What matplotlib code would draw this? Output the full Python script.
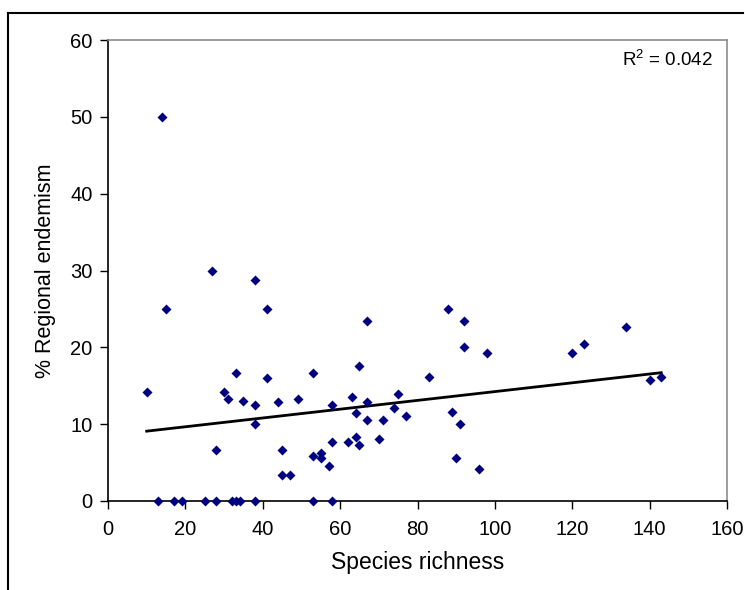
import numpy as np
import matplotlib.pyplot as plt
from matplotlib.lines import Line2D

plt.rcParams['font.family'] = ['Liberation Sans', 'DejaVu Sans']
plt.rcParams['mathtext.fontset'] = 'custom'
plt.rcParams['mathtext.rm'] = 'Liberation Sans'
plt.rcParams['mathtext.it'] = 'Liberation Sans:italic'

# species richness vs % regional endemism, one value per site
richness = [10, 14, 15, 13, 17, 19, 25, 28, 27, 28, 30, 31, 32, 33, 33, 34,
            35, 38, 38, 38, 38, 41, 41, 44, 45, 45, 47, 49, 53, 53, 53, 55,
            55, 57, 58, 58, 58, 62, 63, 64, 64, 65, 65, 67, 67, 67, 70, 71,
            74, 75, 77, 83, 88, 89, 90, 91, 92, 92, 96, 98, 120, 123, 134,
            140, 143]
endemism = [14.2, 50.0, 25.0, 0, 0, 0, 0, 0, 30.0, 6.7, 14.2, 13.3, 0, 16.7,
            0, 0, 13.0, 28.7, 12.5, 10.0, 0, 25.0, 16.0, 12.9, 6.7, 3.4, 3.4,
            13.3, 16.7, 5.9, 0, 6.3, 5.6, 4.5, 12.5, 7.7, 0, 7.7, 13.5, 11.4,
            8.3, 17.6, 7.3, 23.4, 12.9, 10.6, 8.1, 10.5, 12.1, 13.9, 11.1,
            16.1, 25.0, 11.6, 5.6, 10.0, 23.4, 20.0, 4.2, 19.3, 19.3, 20.4,
            22.7, 15.8, 16.1]
r2_text = r'R$^2$ = 0.042'

x = np.array(richness, dtype=float)
y = np.array(endemism, dtype=float)

# least-squares trend line over the observed range
slope, intercept = np.polyfit(x, y, 1)
xfit = np.array([x.min(), x.max()])
yfit = slope * xfit + intercept

fig = plt.figure(figsize=(7.45, 5.9), dpi=100)
ax = fig.add_axes([108 / 745, 1 - 501 / 590, 619 / 745, 461 / 590])

ax.scatter(x, y, marker='D', s=26, color='#000080', linewidths=0, zorder=3,
           clip_on=False)
ax.plot(xfit, yfit, color='black', linewidth=2, zorder=2)

ax.set_xlim(0, 160)
ax.set_ylim(0, 60)
ax.set_xticks(np.arange(0, 161, 20))
ax.set_yticks(np.arange(0, 61, 10))
ax.tick_params(direction='out', length=6, width=1, labelsize=14.5,
               color='black')
ax.tick_params(axis='x', pad=8)
ax.tick_params(axis='y', pad=5)

for side in ['top', 'right']:
    ax.spines[side].set_color('#8c8c8c')
    ax.spines[side].set_linewidth(1.2)
for side in ['left', 'bottom']:
    ax.spines[side].set_color('black')
    ax.spines[side].set_linewidth(1.2)

ax.set_xlabel('Species richness', fontsize=16.5, labelpad=8)
ax.set_ylabel('% Regional endemism', fontsize=15.5, labelpad=10)

ax.text(0.977, 0.957, r2_text, transform=ax.transAxes, ha='right',
        va='center', fontsize=13.5)

# outer chart frame (top and left edges visible)
fig.add_artist(Line2D([8 / 745, 743 / 745], [1 - 13 / 590, 1 - 13 / 590],
                      transform=fig.transFigure, color='black', linewidth=1.5))
fig.add_artist(Line2D([8 / 745, 8 / 745], [0, 1 - 13 / 590],
                      transform=fig.transFigure, color='black', linewidth=1.5))

fig.savefig('out.png', dpi=100)
